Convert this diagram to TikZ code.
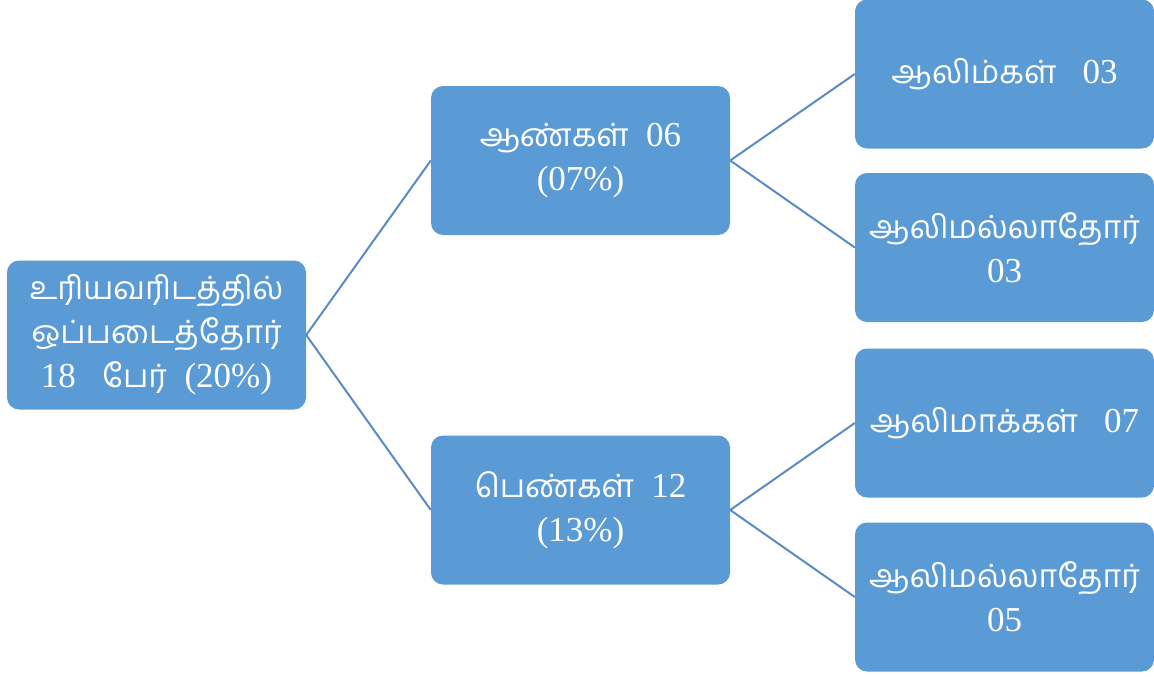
\documentclass[tikz,border=0pt]{standalone}
\usepackage{fontspec}
\setmainfont{Liberation Serif}
\newfontfamily\tamf[Script=Tamil]{Hind Madurai}
\newcommand{\ta}[1]{{\tamf\fontsize{32}{44}\selectfont #1}}
\definecolor{boxfill}{HTML}{5B9BD5}
\definecolor{linkc}{HTML}{5A8BC4}
\begin{document}
\begin{tikzpicture}[x=1pt,y=-1pt,
  box/.style={fill=boxfill,rounded corners=12pt,minimum width=299pt,minimum height=149pt,
    text=white,align=center,inner sep=0pt,font=\fontsize{35}{44}\selectfont},
  link/.style={draw=linkc,line width=2pt}]
\useasboundingbox (0,0) rectangle (1154,677);
\node[box] (root) at (156.5,335) {\ta{உரியவரிடத்தில்}\\\ta{ஒப்படைத்தோர்}\\18~~~\ta{பேர்}~~(20\%)};
\node[box] (men) at (580.5,160.5) {\ta{ஆண்கள்}~~06\\(07\%)};
\node[box] (women) at (580.5,510) {\ta{பெண்கள்}~~12\\(13\%)};
\node[box] (a1) at (1004.5,74) {\ta{ஆலிம்கள்}~~~03};
\node[box] (a2) at (1004.5,247.5) {\ta{ஆலிமல்லாதோர்}\\03};
\node[box] (a3) at (1004.5,423) {\ta{ஆலிமாக்கள்}~~~07};
\node[box] (a4) at (1004.5,597) {\ta{ஆலிமல்லாதோர்}\\05};
\draw[link] (root.east) -- (men.west);
\draw[link] (root.east) -- (women.west);
\draw[link] (men.east) -- (a1.west);
\draw[link] (men.east) -- (a2.west);
\draw[link] (women.east) -- (a3.west);
\draw[link] (women.east) -- (a4.west);
\end{tikzpicture}
\end{document}
